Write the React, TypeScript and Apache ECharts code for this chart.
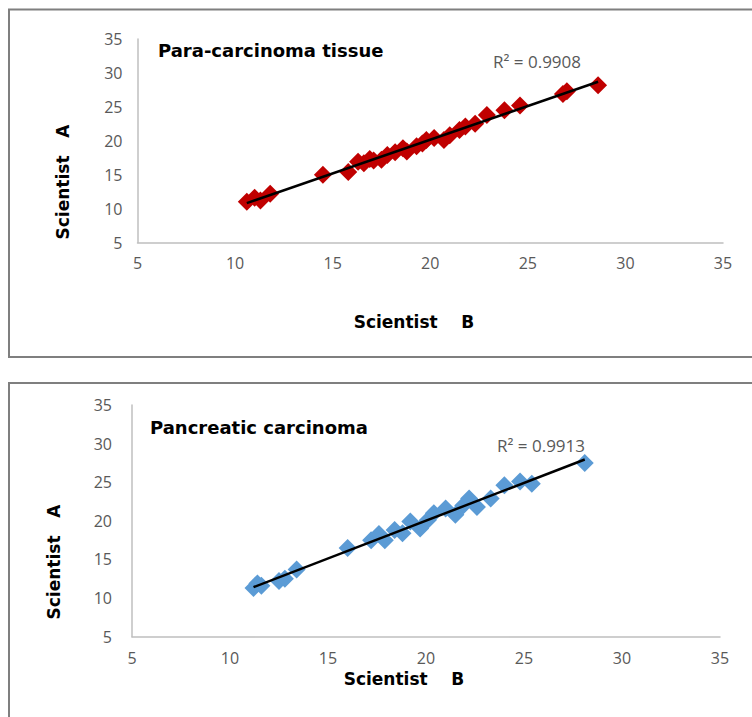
import React, { useEffect, useRef } from "react";
import * as echarts from "echarts";

const xTicks = [5, 35];
const yTicks = [5, 35];

const paraB = [10.6, 11.0, 11.3, 11.8, 14.5, 15.8, 16.3, 16.6, 16.9, 17.1, 17.5, 17.8, 18.2, 18.6, 18.8, 19.3, 19.6, 19.8, 20.2, 20.7, 21.0, 21.5, 21.8, 22.3, 22.9, 23.8, 24.6, 26.8, 27.0, 28.6];
const paraA = [11.0, 11.6, 11.2, 12.2, 15.0, 15.4, 16.9, 16.7, 17.3, 17.1, 17.2, 17.9, 18.3, 18.9, 18.4, 19.2, 19.6, 20.1, 20.4, 20.1, 20.8, 21.6, 22.1, 22.5, 23.8, 24.5, 25.2, 26.9, 27.3, 28.2];

const panB = [11.2, 11.4, 11.6, 12.5, 12.8, 13.4, 16.0, 17.2, 17.6, 17.9, 18.4, 18.8, 19.2, 19.7, 20.1, 20.4, 21.0, 21.5, 21.9, 22.2, 22.6, 23.3, 24.0, 24.8, 25.4, 28.1];
const panA = [11.3, 11.9, 11.6, 12.2, 12.5, 13.7, 16.5, 17.5, 18.3, 17.5, 18.8, 18.4, 19.9, 19.0, 20.1, 21.0, 21.6, 20.8, 22.0, 22.9, 21.8, 22.9, 24.6, 25.1, 24.8, 27.5];

const titles = ["Para-carcinoma tissue", "Pancreatic carcinoma"];
const r2Labels = ["R² = 0.9908", "R² = 0.9913"];
const xTitle = "Scientist    B";
const yTitle = "Scientist   A";

function fit(xs: number[], ys: number[]) {
  const n = xs.length;
  const mx = xs.reduce((a, b) => a + b, 0) / n;
  const my = ys.reduce((a, b) => a + b, 0) / n;
  let sxy = 0, sxx = 0;
  for (let i = 0; i < n; i++) {
    sxy += (xs[i] - mx) * (ys[i] - my);
    sxx += (xs[i] - mx) ** 2;
  }
  const k = sxy / sxx;
  const b = my - k * mx;
  const x0 = Math.min(...xs), x1 = Math.max(...xs);
  return [[x0, k * x0 + b], [x1, k * x1 + b]];
}

export default function App() {
  const ref = useRef<HTMLDivElement>(null);
  useEffect(() => {
    const chart = echarts.init(ref.current!, null, { renderer: "svg" });
    const tickFont = { color: "#595959", fontSize: 16, fontFamily: "Open Sans" };
    const axisLine = { show: true, lineStyle: { color: "#BFBFBF", width: 1.5 } };
    const mkX = (idx: number, margin: number) => ({
      type: "value", gridIndex: idx, min: xTicks[0], max: xTicks[1], interval: 5,
      axisLine, axisTick: { show: false }, splitLine: { show: false },
      axisLabel: { ...tickFont, margin },
    });
    const mkY = (idx: number, margin: number) => ({
      type: "value", gridIndex: idx, min: yTicks[0], max: yTicks[1], interval: 5,
      axisLine, axisTick: { show: false }, splitLine: { show: false },
      axisLabel: { ...tickFont, margin },
    });
    const scatter = (idx: number, xs: number[], ys: number[], color: string) => ({
      type: "scatter", xAxisIndex: idx, yAxisIndex: idx,
      symbol: "diamond", symbolSize: [18, 18],
      itemStyle: { color, opacity: 1 },
      data: xs.map((x, i) => [x, ys[i]]),
      z: 2,
    });
    const trend = (idx: number, xs: number[], ys: number[]) => ({
      type: "line", xAxisIndex: idx, yAxisIndex: idx,
      data: fit(xs, ys), symbol: "none",
      lineStyle: { color: "#000000", width: 2.5 }, z: 3,
    });
    const titleStyle = { fill: "#000", fontSize: 18, fontWeight: "bold", fontFamily: "DejaVu Sans" };
    const axTitleStyle = { fill: "#000", fontSize: 17, fontWeight: "bold", fontFamily: "DejaVu Sans", textAlign: "center", textVerticalAlign: "middle" };
    const r2Style = { fill: "#595959", fontSize: 17, fontFamily: "Open Sans", textVerticalAlign: "middle" };
    chart.setOption({
      animation: false,
      backgroundColor: "#ffffff",
      grid: [
        { left: 137.5, top: 39, width: 585.5, height: 203.5 },
        { left: 132, top: 405, width: 588, height: 231.7 },
      ],
      xAxis: [mkX(0, 12), mkX(1, 13)],
      yAxis: [mkY(0, 15), mkY(1, 20)],
      series: [
        scatter(0, paraB, paraA, "#C00000"),
        trend(0, paraB, paraA),
        scatter(1, panB, panA, "#5B9BD5"),
        trend(1, panB, panA),
      ],
      graphic: [
        { type: "rect", shape: { x: 9, y: 9.5, width: 800, height: 347.5 }, style: { fill: "none", stroke: "#7F7F7F", lineWidth: 2 }, silent: true },
        { type: "rect", shape: { x: 9, y: 383, width: 800, height: 400 }, style: { fill: "none", stroke: "#7F7F7F", lineWidth: 2 }, silent: true },
        { type: "text", x: 158, y: 50, style: { ...titleStyle, text: titles[0], textVerticalAlign: "middle" } },
        { type: "text", x: 150, y: 427, style: { ...titleStyle, text: titles[1], textVerticalAlign: "middle" } },
        { type: "text", x: 493, y: 61.5, style: { ...r2Style, text: r2Labels[0] } },
        { type: "text", x: 497, y: 445, style: { ...r2Style, text: r2Labels[1] } },
        { type: "text", x: 414, y: 322, style: { ...axTitleStyle, text: xTitle } },
        { type: "text", x: 404, y: 678.5, style: { ...axTitleStyle, text: xTitle } },
        { type: "text", x: 63, y: 182, rotation: Math.PI / 2, style: { ...axTitleStyle, text: yTitle } },
        { type: "text", x: 54, y: 562, rotation: Math.PI / 2, style: { ...axTitleStyle, text: yTitle } },
      ],
    });
    return () => chart.dispose();
  }, []);
  return (
    <div style={{ position: "absolute", left: 0, top: 0, width: 752, height: 717, overflow: "hidden" }}>
      <div ref={ref} style={{ width: 752, height: 717 }} />
    </div>
  );
}
